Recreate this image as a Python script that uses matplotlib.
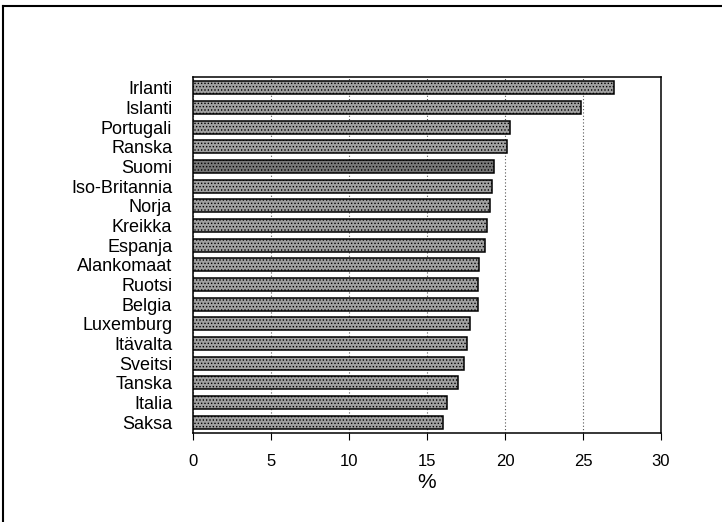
import matplotlib
matplotlib.use("Agg")
import matplotlib.pyplot as plt
from matplotlib.lines import Line2D

plt.rcParams['font.family'] = ['Liberation Sans', 'DejaVu Sans']
plt.rcParams['hatch.color'] = '#404040'
plt.rcParams['hatch.linewidth'] = 0.6

# Maat ja arvot (%)
maat = ["Irlanti", "Islanti", "Portugali", "Ranska", "Suomi", "Iso-Britannia",
        "Norja", "Kreikka", "Espanja", "Alankomaat", "Ruotsi", "Belgia",
        "Luxemburg", "Itävalta", "Sveitsi", "Tanska", "Italia", "Saksa"]
arvot = [27.0, 24.9, 20.35, 20.1, 19.3, 19.15, 19.05, 18.85, 18.75, 18.35,
         18.25, 18.25, 17.75, 17.55, 17.35, 17.0, 16.3, 16.0]
xtiks = [0, 5, 10, 15, 20, 25, 30]

fig = plt.figure(figsize=(7.22, 5.22), dpi=100)
ax = fig.add_axes([0.2673, 0.1705, 0.6482, 0.682])

pos = list(range(len(maat)))[::-1]
varit = ['#777777' if m == "Suomi" else '#a0a0a0' for m in maat]
ax.barh(pos, arvot, height=0.66, color=varit, edgecolor='black',
        linewidth=1.1, hatch='.....', zorder=3)

ax.set_xlim(0, 30)
ax.set_ylim(-0.55, len(maat) - 0.45)
ax.set_yticks(pos)
ax.set_yticklabels(maat, fontsize=13)
ax.set_xticks(xtiks)
ax.set_xticklabels([str(t) for t in xtiks], fontsize=12)
ax.tick_params(axis='y', length=0, pad=15)
ax.tick_params(axis='x', direction='out', length=5, pad=10)
ax.set_xlabel("%", fontsize=15, labelpad=3)

ax.xaxis.grid(True, linestyle=(0, (1, 2)), color='#555555', linewidth=0.8, zorder=0)
for s in ax.spines.values():
    s.set_linewidth(1.1)

# Ulkokehys (vasen ja yläreuna)
fig.add_artist(Line2D([3 / 722, 3 / 722], [0, 1 - 6 / 522], transform=fig.transFigure,
                      color='black', linewidth=1.5))
fig.add_artist(Line2D([3 / 722, 1], [1 - 6 / 522, 1 - 6 / 522], transform=fig.transFigure,
                      color='black', linewidth=1.5))

fig.savefig("out.png", dpi=100)
